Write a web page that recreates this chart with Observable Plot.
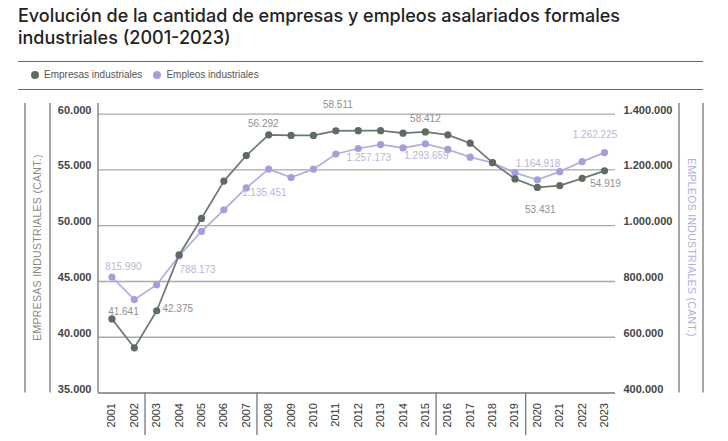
<!DOCTYPE html>
<html><head><meta charset="utf-8">
<script src="https://cdn.jsdelivr.net/npm/d3@7"></script>
<script src="https://cdn.jsdelivr.net/npm/@observablehq/plot@0.6"></script>
<style>
body{margin:0;background:#fff;width:728px;height:441px;overflow:hidden;position:relative;font-family:"Liberation Sans",Arial,sans-serif}
#title{position:absolute;left:18px;top:5px;font-family:Inter,sans-serif;font-size:18px;line-height:22px;color:#222;font-weight:500;white-space:nowrap}
.rule{position:absolute;left:18px;width:685px;height:0;border-top:1.5px solid #6a6a6a}
#legend{position:absolute;left:31px;top:69px;font-size:10px;color:#555;display:flex;align-items:center;line-height:12px}
.sw{display:inline-block;width:8px;height:8px;border-radius:50%;margin-right:5px}
#chart{position:absolute;left:0;top:90px}
</style></head><body>
<div id="title">Evolución de la cantidad de empresas y empleos asalariados formales<br>industriales (2001-2023)</div>
<div class="rule" style="top:61px"></div>
<div id="legend"><span class="sw" style="background:#5d6b62"></span><span>Empresas industriales</span><span class="sw" style="background:#a69ddf;margin-left:11px"></span><span>Empleos industriales</span></div>
<div class="rule" style="top:89px"></div>
<div id="chart"></div>
<script>
const years = [2001,2002,2003,2004,2005,2006,2007,2008,2009,2010,2011,2012,2013,2014,2015,2016,2017,2018,2019,2020,2021,2022,2023];
const empresas = [41641,39050,42375,47380,50650,54000,56292,58150,58100,58100,58511,58520,58520,58300,58412,58150,57400,55650,54200,53431,53600,54250,54919];
const empleos = [815990,735000,788173,892000,980000,1057000,1135451,1203000,1173000,1203000,1257173,1277000,1291000,1279000,1293659,1273500,1246000,1226000,1190000,1164918,1194000,1230000,1262225];
const leftTicks = [35000,40000,45000,50000,55000,60000];
const rightTicks = [400000,600000,800000,1000000,1200000,1400000];
const labeledYears = [2001,2003,2007,2011,2015,2020,2023];
const periodBreaks = [2002.5,2007.5,2015.5,2019.5];

const fmt = d3.formatLocale({decimal:",",thousands:".",grouping:[3],currency:["$",""]}).format(",d");
// right axis (empleos) is mapped linearly onto the left axis (empresas)
const toLeft = v => (v + 1e6) / 40;

const green = "#5d6b62", greenLine = "#6c786f";
const purple = "#a69ddf", purpleLine = "#b2acdf";
const data = years.map((year,i)=>({year, empresas:empresas[i], empleos:empleos[i]}));

const empLabelPos = {2001:[11.5,-7],2003:[5.7,-2,"start"],2007:[17,-32],2011:[2,-26],2015:[0,-13.4],2020:[3,22],2023:[1,13]};
const jobLabelPos = {2001:[11.5,-10.7],2003:[22.8,-14.6,"start"],2007:[18,5.3],2011:[33,3.7],2015:[1,11.7],2020:[0.7,-16.4],2023:[-9.5,-17.6]};

const labelMarks = [];
for (const yr of labeledYears) {
  const d = data.filter(r => r.year === yr);
  const [dx1,dy1,a1] = empLabelPos[yr];
  labelMarks.push(Plot.text(d, {x:"year", y:"empresas", text:r=>fmt(r.empresas), dx:dx1, dy:dy1, textAnchor:a1||"middle", fill:"#8e918f", fontSize:10}));
  const [dx2,dy2,a2] = jobLabelPos[yr];
  labelMarks.push(Plot.text(d, {x:"year", y:r=>toLeft(r.empleos), text:r=>fmt(r.empleos), dx:dx2, dy:dy2, textAnchor:a2||"middle", fill:"#bab5d6", fontSize:10}));
}

const plot = Plot.plot({
  width:728, height:351,
  marginLeft:98, marginRight:113, marginTop:23.7, marginBottom:48.5,
  x:{type:"linear", domain:[2000.4, 2023.49]},
  y:{domain:[35000,60000]},
  style:{fontFamily:"'Liberation Sans', Arial, sans-serif", background:"transparent", overflow:"visible"},
  marks:[
    Plot.ruleY(leftTicks.slice(1), {stroke:"#a9a9a9", strokeWidth:1.3}),
    Plot.ruleY([leftTicks[0]], {stroke:"#777", strokeWidth:1.4}),
    Plot.axisY({anchor:"left", ticks:leftTicks, tickSize:0, tickPadding:7, dy:-4, tickFormat:fmt, fontSize:11, fontWeight:"bold", fill:"#444", label:null}),
    Plot.axisY({anchor:"right", ticks:rightTicks.map(toLeft), tickSize:0, tickPadding:8, dy:-4, tickFormat:(d,i)=>fmt(rightTicks[i]), fontSize:11, fontWeight:"bold", fill:"#444", label:null}),
    Plot.axisX({ticks:years, tickFormat:d=>String(d), tickRotate:-90, tickSize:0, tickPadding:10, fontSize:11, fill:"#333", label:null}),
    Plot.line(data, {x:"year", y:d=>toLeft(d.empleos), stroke:purpleLine, strokeWidth:1.7}),
    Plot.dot(data, {x:"year", y:d=>toLeft(d.empleos), r:3.6, fill:purple}),
    Plot.line(data, {x:"year", y:"empresas", stroke:greenLine, strokeWidth:1.7}),
    Plot.dot(data, {x:"year", y:"empresas", r:3.6, fill:green}),
    ...labelMarks
  ]
});
document.getElementById("chart").appendChild(plot);

// frame decorations
const svg = d3.select(plot);
const xs = plot.scale("x");
const frameTop = 13, frameBottom = 302.5;
const deco = svg.append("g").attr("stroke","#777").attr("stroke-width",1.3);
for (const x of [25, 50, 98, 679, 703]) deco.append("line").attr("x1",x).attr("x2",x).attr("y1",frameTop).attr("y2",frameBottom);
for (const b of periodBreaks) { const x = xs.apply(b); deco.append("line").attr("x1",x).attr("x2",x).attr("y1",frameBottom).attr("y2",345); }
svg.append("text").attr("transform","translate(40.5,157.5) rotate(-90)").attr("text-anchor","middle").attr("fill","#8a8a8a")
  .attr("font-size",10.5).attr("letter-spacing",0.3).text("EMPRESAS INDUSTRIALES (CANT.)");
svg.append("text").attr("transform","translate(687.5,157.5) rotate(90)").attr("text-anchor","middle").attr("fill","#b3addb")
  .attr("font-size",10.5).attr("letter-spacing",0.3).text("EMPLEOS INDUSTRIALES (CANT.)");
</script>
</body></html>
